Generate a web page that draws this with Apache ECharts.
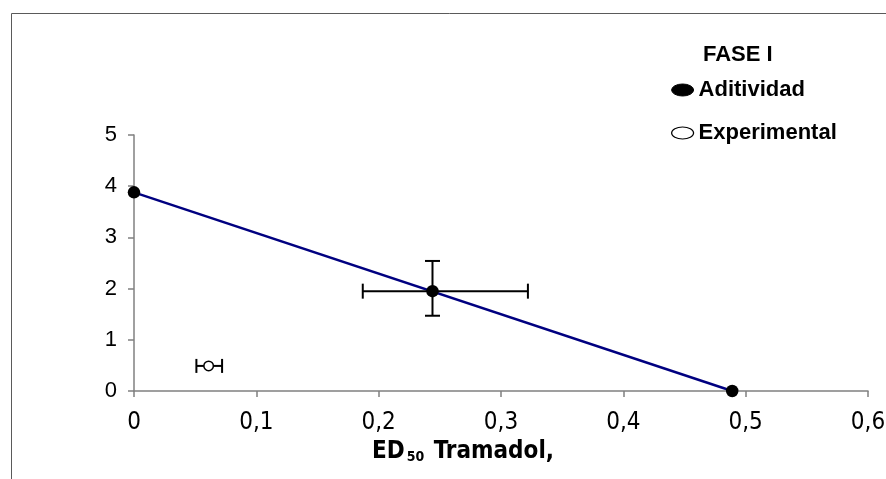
<!DOCTYPE html>
<html><head><meta charset="utf-8">
<script src="https://cdn.jsdelivr.net/npm/echarts@6/dist/echarts.min.js"></script>
<style>html,body{margin:0;padding:0;background:#fff}#c{width:886px;height:479px}</style>
</head><body><div id="c"></div>
<script>
// Data
const legendTitle = 'FASE I';
const seriesNames = ['Aditividad', 'Experimental'];
const aditividadX = [0, 0.244, 0.489];
const aditividadY = [3.88, 1.95, 0];
const experimentalX = [0.061];
const experimentalY = [0.49];
// error bars: [x, y, xLow, xHigh, yLow, yHigh]
const aditividadErr = [[0.244, 1.95, 0.187, 0.322, 1.47, 2.54]];
const experimentalErr = [[0.061, 0.49, 0.051, 0.072, 0.49, 0.49]];
const xTicks = [0, 0.1, 0.2, 0.3, 0.4, 0.5, 0.6];
const yTicks = [0, 1, 2, 3, 4, 5];

const fmt = v => v === 0 ? '0' : String(+v.toFixed(1)).replace('.', ',');
const NARROW = '"Liberation Sans Narrow", "Arial Narrow", "DejaVu Sans Condensed", sans-serif';
const SANS = '"Liberation Sans", Arial, sans-serif';

function errRender(cap) {
  return function (params, api) {
    const x = api.value(0), y = api.value(1);
    const xl = api.coord([api.value(2), y]), xh = api.coord([api.value(3), y]);
    const yl = api.coord([x, api.value(4)]), yh = api.coord([x, api.value(5)]);
    const st = { stroke: '#000', lineWidth: 2 };
    const ch = [];
    ch.push({ type: 'line', shape: { x1: xl[0], y1: xl[1], x2: xh[0], y2: xh[1] }, style: st });
    ch.push({ type: 'line', shape: { x1: xl[0], y1: xl[1] - cap, x2: xl[0], y2: xl[1] + cap }, style: st });
    ch.push({ type: 'line', shape: { x1: xh[0], y1: xh[1] - cap, x2: xh[0], y2: xh[1] + cap }, style: st });
    if (Math.abs(yl[1] - yh[1]) > 1) {
      ch.push({ type: 'line', shape: { x1: yl[0], y1: yl[1], x2: yh[0], y2: yh[1] }, style: st });
      ch.push({ type: 'line', shape: { x1: yl[0] - cap, y1: yl[1], x2: yl[0] + cap, y2: yl[1] }, style: st });
      ch.push({ type: 'line', shape: { x1: yh[0] - cap, y1: yh[1], x2: yh[0] + cap, y2: yh[1] }, style: st });
    }
    return { type: 'group', children: ch };
  };
}

const chart = echarts.init(document.getElementById('c'), null, { renderer: 'canvas' });
const ellipse = 'path://M0,6 A11,6 0 1,0 22,6 A11,6 0 1,0 0,6 Z';
chart.setOption({
  animation: false,
  textStyle: { fontFamily: SANS },
  grid: { left: 134, right: 18, top: 135, bottom: 88, containLabel: false, outerBoundsMode: 'none' },
  graphic: [{
    type: 'rect', silent: true, z: -1,
    shape: { x: 11.5, y: 13.5, width: 1000, height: 600 },
    style: { fill: 'none', stroke: '#5a5a5a', lineWidth: 1 }
  }],
  title: {
    text: legendTitle, left: 703, top: 44, padding: 0,
    textStyle: { fontSize: 22, fontWeight: 'bold', color: '#000', fontFamily: SANS }
  },
  legend: {
    orient: 'vertical', left: 671, top: 79, itemGap: 21, padding: 0,
    itemWidth: 22, itemHeight: 12, itemTextGap: 10,
    textStyle: { fontSize: 22, fontWeight: 'bold', color: '#000', fontFamily: SANS },
    data: [
      { name: seriesNames[0], icon: ellipse, itemStyle: { color: '#000', borderColor: '#000', borderWidth: 1 } },
      { name: seriesNames[1], icon: ellipse, itemStyle: { color: '#fff', borderColor: '#000', borderWidth: 1.2 } }
    ]
  },
  xAxis: {
    type: 'value', min: 0, max: 0.6, interval: 0.1,
    axisLine: { lineStyle: { color: '#808080', width: 1.5 } },
    axisTick: { show: true, length: 6, lineStyle: { color: '#808080', width: 1.5 } },
    splitLine: { show: false },
    axisLabel: { fontSize: 24, color: '#000', margin: 20, formatter: fmt, fontFamily: NARROW },
    name: '{b|ED}{s|50}{b| Tramadol,}', nameLocation: 'middle', nameGap: 49,
    nameTextStyle: {
      padding: [0, 76, 0, 0],
      rich: {
        b: { fontSize: 24, fontWeight: 'bold', color: '#000', fontFamily: NARROW },
        s: { fontSize: 14, fontWeight: 'bold', color: '#000', fontFamily: NARROW, padding: [10, 2, 0, 2] }
      }
    }
  },
  yAxis: {
    type: 'value', min: 0, max: 5, interval: 1,
    axisLine: { show: true, lineStyle: { color: '#808080', width: 1.5 } },
    axisTick: { show: true, length: 6, lineStyle: { color: '#808080', width: 1.5 } },
    splitLine: { show: false },
    axisLabel: { fontSize: 22, color: '#000', margin: 17, formatter: fmt, fontFamily: SANS }
  },
  series: [
    {
      type: 'line', name: 'linea', data: [[aditividadX[0], aditividadY[0]], [aditividadX[2], aditividadY[2]]],
      showSymbol: false, symbol: 'none', lineStyle: { color: '#000080', width: 2.5 }, z: 2
    },
    {
      type: 'custom', name: 'errA', data: aditividadErr, renderItem: errRender(7.5), z: 3
    },
    {
      type: 'custom', name: 'errE', data: experimentalErr, renderItem: errRender(7), z: 3
    },
    {
      type: 'scatter', name: seriesNames[0],
      data: aditividadX.map((x, i) => [x, aditividadY[i]]),
      symbol: 'circle', symbolSize: 12.5, itemStyle: { color: '#000', opacity: 1 }, z: 5
    },
    {
      type: 'scatter', name: seriesNames[1],
      data: experimentalX.map((x, i) => [x, experimentalY[i]]),
      symbol: 'circle', symbolSize: 9.5, itemStyle: { color: '#fff', borderColor: '#000', borderWidth: 1.5, opacity: 1 }, z: 5
    }
  ]
});
</script>
</body></html>
